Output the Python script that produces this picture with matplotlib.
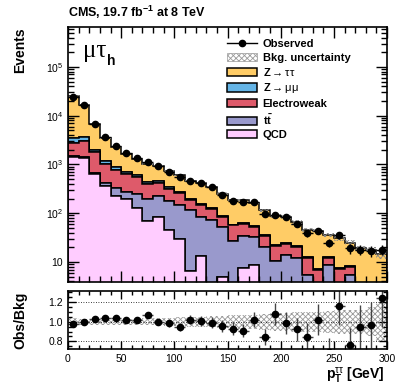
import numpy as np
import matplotlib
matplotlib.use("Agg")
import matplotlib.pyplot as plt
from matplotlib.patches import Patch
from matplotlib.lines import Line2D
from matplotlib.ticker import MultipleLocator, LogLocator, NullFormatter, FixedLocator, FuncFormatter

plt.rcParams['font.family'] = ['Liberation Sans', 'DejaVu Sans']
plt.rcParams['mathtext.fontset'] = 'custom'
plt.rcParams['mathtext.rm'] = 'Liberation Sans'
plt.rcParams['mathtext.bf'] = 'Liberation Sans:bold'
plt.rcParams['mathtext.it'] = 'Liberation Sans:italic'
plt.rcParams['hatch.linewidth'] = 0.6

# ---------------- data ----------------
edges = np.arange(0, 301, 10)
qcd = [1450, 1350, 630, 355, 230, 195, 130, 70, 85, 45, 30, 6.4, 13.5, 0, 5, 0, 7.7, 8.7,
       0, 0, 0, 0, 0, 0, 0, 0, 0, 0, 0, 0]
ttbar = [20, 50, 30, 70, 95, 80, 120, 125, 145, 137, 118, 110, 71, 73, 46, 27, 27, 24,
         20, 10.5, 14, 12, 5.5, 2, 8.5, 1.5, 5.4, 0.5, 0.5, 0.3]
ewk = [1330, 1600, 1160, 595, 450, 370, 300, 205, 195, 136, 110, 70, 63, 47, 34, 29, 26, 20.5,
       14.7, 11, 9, 8.5, 6.5, 4.9, 3.5, 5.7, 2.6, 1.5, 2.5, 0.7]
zmm = [670, 630, 180, 130, 105, 70, 60, 35, 35, 32, 17, 10, 8, 6, 4, 2, 2, 2,
       1, 1, 1, 1, 0.5, 0.3, 0.5, 0.3, 0.3, 0.3, 0.3, 0.3]
ztt = [21610, 12970, 4600, 2300, 1365, 952, 713, 593, 475, 377, 319, 254, 255, 217, 163, 130,
       122, 110, 78, 64.5, 60, 43.5, 33.5, 35.8, 23.5, 23.5, 16.7, 16.7, 14.2, 13.2]
observed = [24500, 16600, 6800, 3600, 2340, 1700, 1350, 1100, 935, 715, 560, 460, 415, 340,
            241, 175, 168, 169, 96, 94, 83, 60, 39, 44, 25, 36, 19, 18, 17, 18]
bkg_rel_unc = [0.035, 0.03, 0.03, 0.03, 0.03, 0.03, 0.03, 0.035, 0.035, 0.04,
               0.045, 0.05, 0.05, 0.055, 0.06, 0.065, 0.07, 0.07, 0.08, 0.09,
               0.09, 0.10, 0.10, 0.10, 0.11, 0.12, 0.12, 0.12, 0.15, 0.20]

names = ['QCD', r'$\mathbf{t\bar{t}}$', 'Electroweak', r'Z$\rightarrow\mathrm{\mu\mu}$',
         r'Z$\rightarrow\mathrm{\tau\tau}$']
comps = [qcd, ttbar, ewk, zmm, ztt]
colors = ['#FFCCFF', '#9999CC', '#DE5A6A', '#64B4E6', '#FFCC66']

# ---------------- derived ----------------
centers = 0.5 * (edges[:-1] + edges[1:])
comps = [np.asarray(c, float) for c in comps]
total = np.sum(comps, axis=0)
obs = np.asarray(observed, float)
unc = np.asarray(bkg_rel_unc)
obs_err = np.sqrt(obs)

fig = plt.figure(figsize=(4.07, 3.91), dpi=100)
ax = fig.add_axes([0.167, 0.279, 0.784, 0.652])
rax = fig.add_axes([0.167, 0.107, 0.784, 0.150])

ax.set_yscale('log')
ax.hist([centers] * 5, bins=edges, weights=comps, stacked=True, histtype='stepfilled',
        color=colors, edgecolor='black', linewidth=1.1)
# bkg uncertainty band
ax.fill_between(edges, np.append(total * (1 - unc), total[-1] * (1 - unc[-1])),
                np.append(total * (1 + unc), total[-1] * (1 + unc[-1])), step='post',
                facecolor='none', edgecolor='#888888', hatch='xxxxxx', linewidth=0)
ax.errorbar(centers, obs, yerr=obs_err, xerr=5, fmt='o', color='black', ms=4.5,
            elinewidth=1, capsize=0)

ax.set_xlim(0, 300)
ax.set_ylim(3.9, 6.6e5)
ax.xaxis.set_major_locator(MultipleLocator(50))
ax.xaxis.set_minor_locator(MultipleLocator(10))
ax.yaxis.set_major_locator(LogLocator(base=10, numticks=10))
ax.yaxis.set_minor_locator(LogLocator(base=10, subs=np.arange(2, 10), numticks=20))
ax.yaxis.set_minor_formatter(NullFormatter())


def logfmt(v, pos):
    e = int(round(np.log10(v)))
    return '10' if e == 1 else r'$\mathrm{10^{%d}}$' % e


ax.yaxis.set_major_formatter(FuncFormatter(logfmt))
ax.tick_params(axis='both', which='both', direction='in', top=True, right=True, labelsize=7.5)
ax.tick_params(axis='both', which='major', length=8, width=1)
ax.tick_params(axis='both', which='minor', length=4, width=1)
ax.tick_params(axis='x', labelbottom=False)
for s in ax.spines.values():
    s.set_linewidth(1.2)

# legend
handles = [Line2D([0], [0], color='black', marker='o', ms=4.5, lw=1),
           Patch(facecolor='white', edgecolor='#999999', hatch='xxxxxx', lw=0.5)]
labels = ['Observed', 'Bkg. uncertainty']
for n, c in list(zip(names, colors))[::-1]:
    handles.append(Patch(facecolor=c, edgecolor='black', lw=1.1))
    labels.append(n)
leg = ax.legend(handles, labels, loc='upper left', bbox_to_anchor=(0.497, 0.952),
                frameon=False, prop={'weight': 'bold', 'size': 8}, handlelength=2.7,
                handleheight=0.8, handletextpad=0.55, labelspacing=0.3, borderpad=0,
                borderaxespad=0)

# ratio
ratio = obs / total
rax.fill_between(edges, np.append(1 - unc, 1 - unc[-1]), np.append(1 + unc, 1 + unc[-1]),
                 step='post', facecolor='none', edgecolor='#999999', hatch='xxxxxx', linewidth=0)
for yv in (0.8, 1.0, 1.2):
    rax.axhline(yv, color='black', ls=(0, (1, 2)), lw=0.6)
rax.errorbar(centers, ratio, yerr=obs_err / total, xerr=5, fmt='o', color='black', ms=4.5,
             ecolor='#444444', elinewidth=1, capsize=0)
rax.set_xlim(0, 300)
rax.set_ylim(0.72, 1.32)
rax.xaxis.set_major_locator(MultipleLocator(50))
rax.xaxis.set_minor_locator(MultipleLocator(10))
rax.yaxis.set_major_locator(FixedLocator([0.8, 1.0, 1.2]))
rax.yaxis.set_minor_locator(MultipleLocator(0.05))
rax.yaxis.set_major_formatter(matplotlib.ticker.FormatStrFormatter('%.1f'))
rax.tick_params(axis='both', which='both', direction='in', top=True, right=True, labelsize=7.5)
rax.tick_params(axis='both', which='major', length=6, width=1)
rax.tick_params(axis='both', which='minor', length=3, width=1)
for s in rax.spines.values():
    s.set_linewidth(1.2)

# texts
fig.text(0.167, 0.969, r'CMS, 19.7 fb$^{\mathbf{-1}}$ at 8 TeV', fontsize=9,
         fontweight='bold', ha='left', va='center')
fig.text(0.05, 0.931, 'Events', rotation=90, fontsize=10, fontweight='bold',
         ha='center', va='top')
fig.text(0.05, 0.18, 'Obs/Bkg', rotation=90, fontsize=10, fontweight='bold',
         ha='center', va='center')
fig.text(0.946, 0.03, r'p$_{\mathbf{T}}^{\mathrm{\tau\tau}}$ [GeV]', fontsize=10,
         fontweight='bold', ha='right', va='baseline')
fig.text(83 / 407, 1 - 57 / 391, 'μτ', family='Liberation Serif', fontsize=18,
         ha='left', va='baseline')
fig.text(107 / 407, 1 - 65 / 391, 'h', fontsize=10, fontweight='bold',
         ha='left', va='baseline')

fig.savefig('out.png', dpi=100)
